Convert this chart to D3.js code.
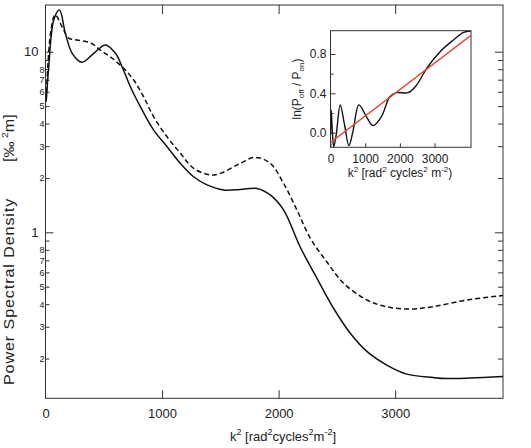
<!DOCTYPE html>
<html>
<head>
<meta charset="utf-8">
<script src="https://cdn.jsdelivr.net/npm/d3@7"></script>
<style>
  body { margin: 0; background: #fff; }
  svg { display: block; font-family: "Liberation Sans", Arial, sans-serif; }
  .tick line { stroke: #333; }
  .tick text { fill: #222; }
</style>
</head>
<body>
<svg id="chart" width="531" height="448"></svg>
<script>
// Main plot: PSD vs k^2 (solid and dashed spectra)
const kSolid   = [6, 28, 71, 120, 171, 229, 314, 414, 514, 600, 657, 728, 814, 928, 1043, 1157, 1271, 1386, 1528, 1671, 1814, 1928, 2042, 2185, 2328, 2470, 2613, 2757, 2928, 3099, 3327, 3442, 3642, 3925];
const psdSolid = [5.29, 8.26, 14.98, 17.0, 12.6, 9.8, 8.74, 9.8, 10.9, 9.8, 8.26, 6.4, 4.96, 3.68, 2.98, 2.41, 2.03, 1.83, 1.715, 1.726, 1.75, 1.61, 1.33, 0.829, 0.558, 0.381, 0.277, 0.219, 0.184, 0.164, 0.157, 0.155, 0.156, 0.159];

const kDashed   = [6, 43, 83, 143, 200, 272, 386, 471, 572, 671, 757, 842, 928, 1043, 1157, 1271, 1414, 1500, 1671, 1799, 1928, 2042, 2157, 2271, 2414, 2556, 2757, 2928, 3128, 3327, 3614, 3925];
const psdDashed = [5.4, 12.6, 16.0, 13.7, 11.9, 11.6, 11.2, 10.2, 9.2, 8.09, 6.97, 5.63, 4.36, 3.38, 2.74, 2.26, 2.08, 2.12, 2.41, 2.60, 2.41, 1.87, 1.33, 0.93, 0.685, 0.524, 0.422, 0.387, 0.376, 0.388, 0.422, 0.447];

// Inset: ln(P_off / P_on) and its linear fit
const kInset  = [0, 20, 58, 96, 165, 281, 406, 530, 646, 820, 1035, 1226, 1469, 1710, 1904, 2241, 2484, 2774, 3159, 3545, 3835, 4050];
const lnRatio = [-0.02, 0.23, -0.02, -0.142, -0.02, 0.282, 0.078, -0.132, 0.01, 0.282, 0.163, 0.072, 0.163, 0.366, 0.407, 0.407, 0.485, 0.655, 0.824, 0.943, 1.02, 1.037];
const kFit  = [0, 4050];
const lnFit = [-0.1, 0.99];

// Tick values and labels
const xTicks = [0, 1000, 2000, 3000];
const yMajor = [1, 10];
const yMinor = [0.2, 0.3, 0.4, 0.5, 0.6, 0.7, 0.8, 0.9, 2, 3, 4, 5, 6, 7, 8, 9];
const yMinorLabelled = [0.2, 0.3, 0.4, 0.5, 0.6, 0.7, 0.8, 2, 3, 4, 5, 6, 7, 8];
const insetXTicks = [0, 1000, 2000, 3000];
const insetYMajor = [0, 0.4, 0.8];
const insetYMinor = [0.2, 0.6];

const svg = d3.select('#chart');

// plot box (pixel frame)
const box = { left: 45.5, right: 503, top: 5, bottom: 398.3 };

const xScale = d3.scaleLinear().domain([0, 3925]).range([box.left, box.right]);
const yScale = d3.scaleLog().domain([0.1205, 18.14]).range([box.bottom, box.top]);

// frame
svg.append('rect')
    .attr('x', box.left).attr('y', box.top)
    .attr('width', box.right - box.left).attr('height', box.bottom - box.top)
    .attr('fill', 'none').attr('stroke', '#333').attr('stroke-width', 1);

// x axis (bottom, labelled, inward ticks)
const xAxisB = d3.axisBottom(xScale).tickValues(xTicks).tickSize(-8).tickPadding(10).tickFormat(d3.format('d'));
svg.append('g')
    .attr('transform', `translate(0,${box.bottom})`)
    .call(xAxisB)
    .call(g => g.select('.domain').remove())
    .call(g => g.selectAll('.tick').filter(d => d === 0).select('line').remove())
    .call(g => g.selectAll('text').attr('font-size', 13));

// x axis top (ticks only)
svg.append('g')
    .attr('transform', `translate(0,${box.top})`)
    .call(d3.axisTop(xScale).tickValues(xTicks.slice(1)).tickSize(-9).tickFormat(''))
    .call(g => g.select('.domain').remove());

// y axis left: majors
svg.append('g')
    .attr('transform', `translate(${box.left},0)`)
    .call(d3.axisLeft(yScale).tickValues(yMajor).tickSize(-8).tickPadding(7).tickFormat(d3.format('d')))
    .call(g => g.select('.domain').remove())
    .call(g => g.selectAll('text').attr('font-size', 13));

// y axis left: minors with small labels
svg.append('g')
    .attr('transform', `translate(${box.left},0)`)
    .call(d3.axisLeft(yScale).tickValues(yMinor).tickSize(-4).tickPadding(1)
        .tickFormat(d => yMinorLabelled.includes(d) ? String(Math.round(d < 1 ? d * 10 : d)) : ''))
    .call(g => g.select('.domain').remove())
    .call(g => g.selectAll('text').attr('font-size', 9));

// y axis right (ticks only)
svg.append('g')
    .attr('transform', `translate(${box.right},0)`)
    .call(d3.axisRight(yScale).tickValues(yMajor).tickSize(-8).tickFormat(''))
    .call(g => g.select('.domain').remove());
svg.append('g')
    .attr('transform', `translate(${box.right},0)`)
    .call(d3.axisRight(yScale).tickValues(yMinor).tickSize(-5).tickFormat(''))
    .call(g => g.select('.domain').remove());

// clip for curves
svg.append('clipPath').attr('id', 'mainClip')
    .append('rect')
    .attr('x', box.left).attr('y', box.top)
    .attr('width', box.right - box.left).attr('height', box.bottom - box.top);

const line = d3.line()
    .x(d => xScale(d[0]))
    .y(d => yScale(d[1]))
    .curve(d3.curveCatmullRom.alpha(0.5));

svg.append('path')
    .datum(d3.zip(kDashed, psdDashed))
    .attr('clip-path', 'url(#mainClip)')
    .attr('fill', 'none').attr('stroke', '#111')
    .attr('stroke-width', 1.5).attr('stroke-dasharray', '5,3')
    .attr('d', line);

svg.append('path')
    .datum(d3.zip(kSolid, psdSolid))
    .attr('clip-path', 'url(#mainClip)')
    .attr('fill', 'none').attr('stroke', '#111')
    .attr('stroke-width', 1.5)
    .attr('d', line);

// axis titles
const xTitle = svg.append('text')
    .attr('x', 283).attr('y', 441)
    .attr('text-anchor', 'middle').attr('font-size', 13).attr('fill', '#222');
xTitle.append('tspan').text('k');
xTitle.append('tspan').attr('font-size', 9).attr('dy', -6).text('2');
xTitle.append('tspan').attr('dy', 6).text(' [rad');
xTitle.append('tspan').attr('font-size', 9).attr('dy', -6).text('2');
xTitle.append('tspan').attr('dy', 6).text('cycles');
xTitle.append('tspan').attr('font-size', 9).attr('dy', -6).text('2');
xTitle.append('tspan').attr('dy', 6).text('m');
xTitle.append('tspan').attr('font-size', 9).attr('dy', -6).text('-2');
xTitle.append('tspan').attr('dy', 6).text(']');

// y title: elongated along its length like the original, in two pieces
svg.append('text')
    .attr('transform', 'translate(14,385) rotate(-90) scale(1.15,1)')
    .attr('font-size', 14).attr('fill', '#222')
    .attr('textLength', 162).attr('lengthAdjust', 'spacing')
    .text('Power Spectral Density');

const yUnit = svg.append('text')
    .attr('transform', 'translate(14,162) rotate(-90) scale(1.15,1)')
    .attr('font-size', 14).attr('fill', '#222');
yUnit.append('tspan').text('[\u2030');
yUnit.append('tspan').attr('dx', 3).attr('font-size', 9).attr('dy', -6).text('2');
yUnit.append('tspan').attr('dy', 6).text('m]');

// ---------- inset ----------
const ibox = { left: 330.5, right: 471, top: 30.7, bottom: 147.3 };
const ixScale = d3.scaleLinear().domain([0, 4050]).range([ibox.left, ibox.right]);
const iyScale = d3.scaleLinear().domain([-0.149, 1.037]).range([ibox.bottom, ibox.top]);

const inset = svg.append('g').attr('class', 'inset');

inset.append('rect')
    .attr('x', ibox.left).attr('y', ibox.top)
    .attr('width', ibox.right - ibox.left).attr('height', ibox.bottom - ibox.top)
    .attr('fill', '#fff').attr('stroke', '#333').attr('stroke-width', 1);

inset.append('clipPath').attr('id', 'insetClip')
    .append('rect')
    .attr('x', ibox.left).attr('y', ibox.top)
    .attr('width', ibox.right - ibox.left).attr('height', ibox.bottom - ibox.top);

inset.append('g')
    .attr('transform', `translate(0,${ibox.bottom})`)
    .call(d3.axisBottom(ixScale).tickValues(insetXTicks).tickSize(-4).tickPadding(7).tickFormat(d3.format('d')))
    .call(g => g.select('.domain').remove())
    .call(g => g.selectAll('text').attr('font-size', 12));

inset.append('g')
    .attr('transform', `translate(${ibox.left},0)`)
    .call(d3.axisLeft(iyScale).tickValues(insetYMajor).tickSize(-5).tickPadding(4).tickFormat(d3.format('.1f')))
    .call(g => g.select('.domain').remove())
    .call(g => g.selectAll('text').attr('font-size', 12));
inset.append('g')
    .attr('transform', `translate(${ibox.left},0)`)
    .call(d3.axisLeft(iyScale).tickValues(insetYMinor).tickSize(-3).tickFormat(''))
    .call(g => g.select('.domain').remove());

const iline = d3.line()
    .x(d => ixScale(d[0]))
    .y(d => iyScale(d[1]));

inset.append('path')
    .datum(d3.zip(kInset, lnRatio))
    .attr('clip-path', 'url(#insetClip)')
    .attr('fill', 'none').attr('stroke', '#111').attr('stroke-width', 1.4)
    .attr('d', iline.curve(d3.curveCatmullRom.alpha(0.5)));

inset.append('path')
    .datum(d3.zip(kFit, lnFit))
    .attr('clip-path', 'url(#insetClip)')
    .attr('fill', 'none').attr('stroke', '#e8432e').attr('stroke-width', 1.4)
    .attr('d', d3.line().x(d => ixScale(d[0])).y(d => iyScale(d[1])));

const ixTitle = inset.append('text')
    .attr('x', 400).attr('y', 177)
    .attr('text-anchor', 'middle').attr('font-size', 12).attr('fill', '#222');
ixTitle.append('tspan').text('k');
ixTitle.append('tspan').attr('font-size', 8).attr('dy', -5).text('2');
ixTitle.append('tspan').attr('dy', 5).text(' [rad');
ixTitle.append('tspan').attr('font-size', 8).attr('dy', -5).text('2');
ixTitle.append('tspan').attr('dy', 5).text(' cycles');
ixTitle.append('tspan').attr('font-size', 8).attr('dy', -5).text('2');
ixTitle.append('tspan').attr('dy', 5).text(' m');
ixTitle.append('tspan').attr('font-size', 8).attr('dy', -5).text('-2');
ixTitle.append('tspan').attr('dy', 5).text(')');

const iyTitle = inset.append('text')
    .attr('transform', 'translate(301,89) rotate(-90)')
    .attr('text-anchor', 'middle').attr('font-size', 12).attr('fill', '#222');
iyTitle.append('tspan').text('ln(P');
iyTitle.append('tspan').attr('font-size', 8).attr('dy', 3).text('off');
iyTitle.append('tspan').attr('dy', -3).text(' / P');
iyTitle.append('tspan').attr('font-size', 8).attr('dy', 3).text('on');
iyTitle.append('tspan').attr('dy', -3).text(')');
</script>
</body>
</html>
